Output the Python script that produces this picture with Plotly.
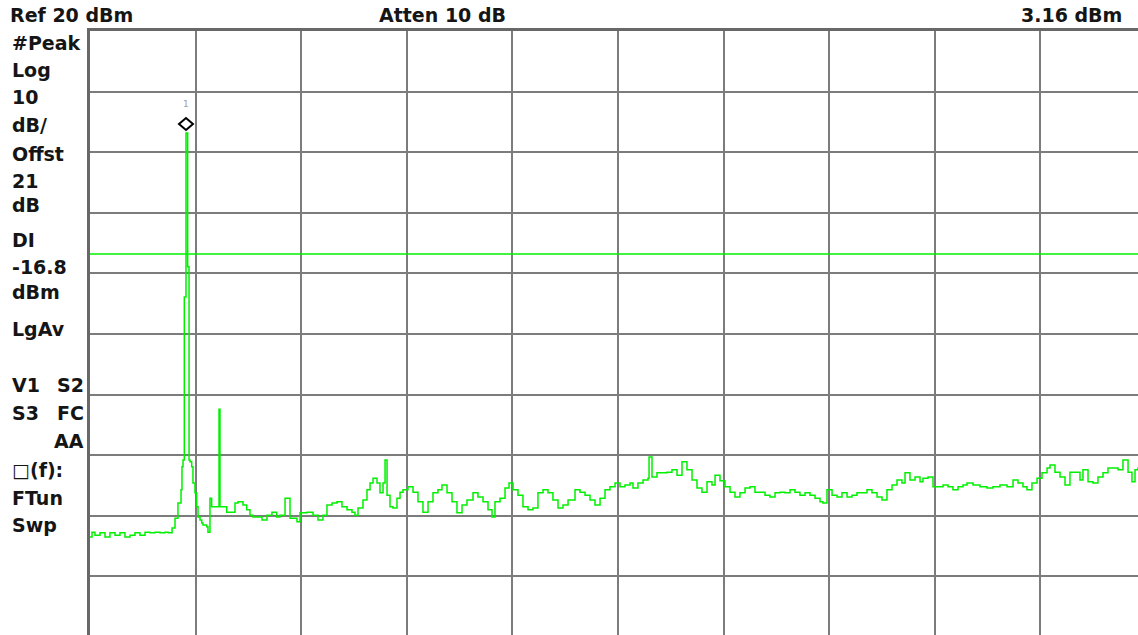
import plotly.graph_objects as go

# spectrum analyzer screen: 10 dB/div, ref 20 dBm, 100 MHz/div (span arbitrary)
ref_level = 20
db_per_div = 10
display_line = -16.8
marker_freq = 90.9
marker_dbm = 3.16

freq_mhz = [
    0, 1.9, 4.7, 9.5, 14.2, 18.9, 23.7, 28.4, 33.1, 37.9, 42.6, 47.3, 52.1, 56.8, 61.6, 66.3,
    71.0, 73.9, 77.7, 80.5, 83.3, 86.2, 87.1, 88.1, 89.3, 90.9, 92.5, 93.8, 94.7, 96.3, 97.5,
    99.4, 101.0, 102.3, 104.2, 105.8, 107.0, 110.5, 111.7, 113.6, 115.2, 118.4, 121.5, 122.2,
    123.1, 129.5, 137.3, 140.2, 144.9, 148.4, 151.5, 154.4, 158.1, 162.9, 167.6, 172.3, 176.8,
    179.9, 184.7, 189.4, 196.0, 198.9, 205.5, 211.2, 215.9, 220.6, 224.4, 229.2, 233.9, 238.6,
    243.4, 248.1, 250.9, 253.8, 258.5, 262.3, 265.2, 268.0, 271.8, 274.6, 277.5, 279.4, 281.3,
    284.1, 286.9, 290.7, 293.6, 296.4, 301.1, 305.9, 310.6, 315.3, 320.1, 324.8, 329.5, 333.3,
    338.1, 342.8, 347.5, 352.3, 357.0, 362.7, 367.4, 372.2, 376.9, 380.7, 383.5, 388.3, 393.0,
    396.8, 400.6, 405.3, 410.0, 414.8, 419.5, 424.2, 429.0, 433.7, 438.4, 443.2, 447.9, 452.7,
    459.3, 464.0, 468.8, 473.5, 478.2, 483.0, 487.7, 492.4, 497.2, 501.9, 506.6, 511.4, 514.2,
    518.9, 523.7, 528.4, 529.4, 532.2, 536.9, 541.7, 546.4, 551.1, 555.9, 560.6, 565.3, 570.1,
    574.8, 579.5, 584.3, 589.0, 591.9, 596.6, 601.3, 606.1, 610.8, 615.5, 620.3, 625.0, 629.7,
    634.5, 639.2, 643.9, 648.7, 653.4, 658.1, 662.9, 667.6, 672.3, 677.1, 681.8, 686.6, 691.3,
    694.1, 697.9, 702.7, 707.4, 712.1, 716.9, 721.6, 726.3, 731.1, 735.8, 740.5, 745.3, 750.0,
    754.7, 759.5, 764.2, 768.9, 771.8, 776.5, 781.3, 786.0, 788.8, 793.6, 798.3, 803.0, 807.8,
    812.5, 817.2, 822.0, 826.7, 830.5, 836.2, 842.8, 849.4, 855.1, 861.7, 868.4, 874.1, 878.8,
    883.5, 887.3, 892.0, 896.8, 901.5, 906.3, 909.1, 913.8, 918.6, 923.3, 928.0, 932.8, 937.5,
    940.3, 945.1, 949.8, 954.5, 959.3, 964.0, 968.8, 973.5, 978.2, 983.0, 986.7, 989.6, 992.4,
    1000.0,
]
level_dbm = [
    -63.5, -62.7, -63.2, -62.8, -63.5, -62.8, -63.2, -62.8, -63.5, -63.2, -62.8, -63.2, -62.7, -62.8, -62.7, -62.8,
    -62.7, -62.8, -62.0, -60.4, -57.9, -55.7, -51.9, -50.8, -23.9, 3.16, -18.9, -50.8, -51.1, -51.9, -54.6,
    -56.2, -58.5, -60.2, -60.7, -61.2, -61.5, -61.8, -62.7, -57.1, -58.5, -58.5, -58.5, -42.4,
    -58.5, -59.4, -57.9, -57.7, -58.2, -59.0, -59.9, -60.2, -60.2, -60.7, -59.9, -59.4, -60.2,
    -59.9, -57.1, -60.4, -61.0, -59.5, -59.4, -59.9, -60.7, -59.9, -58.2, -57.9, -57.7, -58.5,
    -59.0, -59.4, -59.9, -58.7, -57.4, -55.7, -54.6, -53.8, -54.6, -56.2, -54.6, -50.8, -56.6,
    -58.5, -58.7, -57.1, -56.1, -55.7, -55.2, -56.1, -57.7, -59.4, -57.7, -56.2, -55.7, -54.9,
    -56.2, -57.7, -59.5, -58.2, -57.4, -56.2, -56.9, -57.7, -59.0, -60.2, -57.7, -57.1, -55.4,
    -54.6, -55.7, -56.6, -58.5, -59.0, -58.7, -56.2, -55.7, -56.2, -57.4, -58.7, -58.2, -57.4,
    -55.7, -56.1, -56.6, -57.4, -58.2, -57.1, -55.7, -55.2, -54.6, -55.2, -54.9, -54.6, -55.4,
    -54.6, -54.1, -53.8, -50.3, -53.6, -52.9, -52.9, -52.8, -52.4, -53.3, -51.1, -52.4, -54.1,
    -55.4, -56.1, -54.4, -54.9, -53.3, -54.2, -55.2, -56.1, -56.9, -56.2, -55.4, -55.2, -56.1,
    -56.1, -56.6, -56.9, -56.2, -56.1, -56.2, -55.7, -56.1, -56.6, -56.2, -56.6, -57.1, -57.7,
    -57.9, -55.7, -56.6, -56.9, -56.2, -56.9, -56.6, -56.2, -56.2, -55.7, -56.2, -56.9, -57.4,
    -55.7, -54.9, -54.1, -54.6, -52.9, -54.1, -53.6, -54.4, -53.8, -53.6, -55.2, -55.2, -54.9,
    -55.2, -55.7, -55.2, -54.9, -54.6, -54.9, -55.2, -55.4, -55.2, -54.9, -55.2, -54.1, -54.6,
    -55.2, -55.7, -54.6, -53.8, -52.9, -52.1, -51.6, -52.8, -53.6, -54.9, -52.8, -52.8, -54.1,
    -52.4, -54.4, -54.6, -53.6, -52.9, -52.1, -52.1, -52.4, -50.8, -52.8, -54.4, -52.4, -52.1,
    -52.4,
]

# left-hand status column: (text, pixel row of text centre in the screenshot)
side_labels = [
    ("#Peak", 43), ("Log", 70), ("10", 97), ("dB/", 125), ("Offst", 154), ("21", 181),
    ("dB", 205), ("DI", 240), ("-16.8", 267), ("dBm", 292), ("LgAv", 329),
    ("V1", 385), ("S3", 413), ("\u25a1(f):", 470), ("FTun", 498), ("Swp", 525),
]
side_labels_right = [("S2", 385), ("FC", 413), ("AA", 441)]
header_left = "Ref 20 dBm"
header_mid = "Atten 10 dB"
header_right = "3.16 dBm"

# graticule: 10 x 10 divisions, its right/bottom edge falls just outside the window
W, H = 1146, 637
L, T = 90, 31
PW, PH = W - L, H - T


def px(x):
    return (x - L) / PW


def py(y):
    return 1 - (y - T) / PH


green = "#00f000"
txt = dict(family="DejaVu Sans", size=19, color="#151515")

fig = go.Figure()
fig.add_trace(go.Scatter(x=freq_mhz, y=level_dbm, mode="lines", line_shape="hv",
                         line=dict(color=green, width=1.5), hoverinfo="skip"))
fig.add_hline(y=display_line, line_color=green, line_width=1.5)

# marker 1 diamond sitting on the peak
fig.add_shape(type="path", xref="x", yref="y", xsizemode="pixel", ysizemode="pixel",
              xanchor=marker_freq, yanchor=marker_dbm,
              path="M 0 3 L 7 9 L 0 15 L -7 9 Z",
              line=dict(color="black", width=2), fillcolor="rgba(0,0,0,0)")

ann = []
ann.append(dict(x=marker_freq, y=marker_dbm, xref="x", yref="y", text="1", showarrow=False,
                yshift=29, font=dict(family="DejaVu Sans", size=9, color="#a0a0a0")))
for t, yc in side_labels:
    ann.append(dict(x=px(10), y=py(yc), xref="paper", yref="paper", text="<b>%s</b>" % t,
                    showarrow=False, xanchor="left", yanchor="middle", font=txt))
for t, yc in side_labels_right:
    ann.append(dict(x=px(86), y=py(yc), xref="paper", yref="paper", text="<b>%s</b>" % t,
                    showarrow=False, xanchor="right", yanchor="middle", font=txt))
ann.append(dict(x=px(8), y=py(15), xref="paper", yref="paper", text="<b>%s</b>" % header_left,
                showarrow=False, xanchor="left", yanchor="middle", font=txt))
ann.append(dict(x=px(442), y=py(15), xref="paper", yref="paper", text="<b>%s</b>" % header_mid,
                showarrow=False, xanchor="center", yanchor="middle", font=txt))
ann.append(dict(x=px(1124), y=py(15), xref="paper", yref="paper", text="<b>%s</b>" % header_right,
                showarrow=False, xanchor="right", yanchor="middle", font=txt))

fig.update_layout(
    width=W, height=H, autosize=False,
    margin=dict(l=L, t=T, r=0, b=0, pad=0),
    paper_bgcolor="white", plot_bgcolor="white",
    showlegend=False, annotations=ann,
    xaxis=dict(range=[0, 1000], tick0=0, dtick=100, showticklabels=False, ticks="",
               showgrid=True, gridcolor="#7c7c7c", gridwidth=2, zeroline=False,
               side="top", showline=True, linecolor="#686868", linewidth=3),
    yaxis=dict(range=[ref_level - 10 * db_per_div, ref_level], tick0=ref_level, dtick=db_per_div,
               showticklabels=False, ticks="", showgrid=True, gridcolor="#7c7c7c", gridwidth=2,
               zeroline=False, showline=True, linecolor="#686868", linewidth=3),
)

# drop the browser's default body margin so the figure sits at the window corner
fig.write_html("out.html", config={"displayModeBar": False},
               post_script="document.body.style.margin='0px';")
